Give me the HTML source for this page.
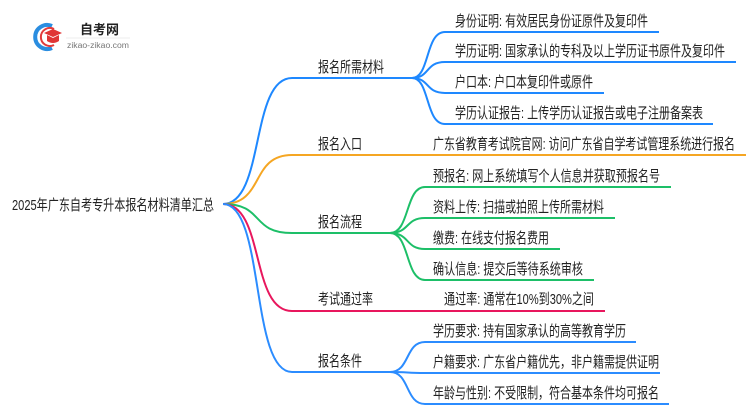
<!DOCTYPE html>
<html><head><meta charset="utf-8"><style>
html,body{margin:0;padding:0;background:#fff;}
svg text{font-family:"Liberation Sans","Noto Sans CJK SC",sans-serif;fill:#222;}
</style></head><body>
<svg width="750" height="410" viewBox="0 0 750 410" xmlns="http://www.w3.org/2000/svg">
<!-- logo -->
<path d="M52,26 A12,12 0 1 0 52,48" fill="none" stroke="#2a8de0" stroke-width="4"/>
<path d="M54,29 A9,9 0 1 0 54,45" fill="none" stroke="#e23b3b" stroke-width="2"/>
<polygon points="44,33 53,29 62,33 53,37" fill="#e03535"/>
<path d="M47,35 L47,41 Q53,45 59,41 L59,35 L53,38 Z" fill="#e03535"/>
<text x="80" y="34" font-size="13" font-weight="bold" fill="#333">自考网</text>
<line x1="66" y1="38" x2="130" y2="38" stroke="#ddd" stroke-width="0.6"/>
<text x="67" y="48" font-size="8" style="fill:#777" textLength="62" lengthAdjust="spacingAndGlyphs">zikao-zikao.com</text>

<g fill="none" stroke-width="2">
<path d="M223,204 C265,204 250,78 292,78 L412,78" stroke="#1e88ff"/>
<path d="M223,204 C265,204 250,155 292,155 L746,155" stroke="#f5a623"/>
<path d="M223,204 C265,204 250,233 292,233 L390,233" stroke="#1dbf68"/>
<path d="M223,204 C265,204 250,311 292,311 L605,311" stroke="#e8175d"/>
<path d="M223,204 C265,204 250,372 292,372 L390,372" stroke="#2b8cff"/>
<g stroke="#1e88ff">
<path d="M412,78 C430,78 425,32 445,32 L659,32"/>
<path d="M412,78 C430,78 425,62 445,62 L736,62"/>
<path d="M412,78 C430,78 425,93 445,93 L604,93"/>
<path d="M412,78 C430,78 425,124 445,124 L713,124"/>
</g>
<g stroke="#1dbf68">
<path d="M390,233 C410,233 405,187 425,187 L671,187"/>
<path d="M390,233 C410,233 405,218 425,218 L615,218"/>
<path d="M390,233 C410,233 405,249 425,249 L560,249"/>
<path d="M390,233 C410,233 405,280 425,280 L594,280"/>
</g>
<g stroke="#2b8cff">
<path d="M390,372 C410,372 405,342 425,342 L636,342"/>
<path d="M390,372 C410,372 405,373 425,373 L660,373"/>
<path d="M390,372 C410,372 405,404 425,404 L669,404"/>
</g>
</g>

<g font-size="15" lengthAdjust="spacingAndGlyphs">
<text x="12" y="210" textLength="202" lengthAdjust="spacingAndGlyphs">2025年广东自考专升本报名材料清单汇总</text>
<text x="318" y="72" textLength="66" lengthAdjust="spacingAndGlyphs">报名所需材料</text>
<text x="318" y="149" textLength="44" lengthAdjust="spacingAndGlyphs">报名入口</text>
<text x="318" y="227" textLength="44" lengthAdjust="spacingAndGlyphs">报名流程</text>
<text x="318" y="304" textLength="55" lengthAdjust="spacingAndGlyphs">考试通过率</text>
<text x="318" y="366" textLength="44" lengthAdjust="spacingAndGlyphs">报名条件</text>

<text x="455" y="26" textLength="193" lengthAdjust="spacingAndGlyphs">身份证明: 有效居民身份证原件及复印件</text>
<text x="455" y="56" textLength="270" lengthAdjust="spacingAndGlyphs">学历证明: 国家承认的专科及以上学历证书原件及复印件</text>
<text x="455" y="87" textLength="138" lengthAdjust="spacingAndGlyphs">户口本: 户口本复印件或原件</text>
<text x="455" y="118" textLength="248" lengthAdjust="spacingAndGlyphs">学历认证报告: 上传学历认证报告或电子注册备案表</text>
<text x="433" y="149" textLength="302" lengthAdjust="spacingAndGlyphs">广东省教育考试院官网: 访问广东省自学考试管理系统进行报名</text>
<text x="433" y="181" textLength="227" lengthAdjust="spacingAndGlyphs">预报名: 网上系统填写个人信息并获取预报名号</text>
<text x="433" y="212" textLength="171" lengthAdjust="spacingAndGlyphs">资料上传: 扫描或拍照上传所需材料</text>
<text x="433" y="243" textLength="116" lengthAdjust="spacingAndGlyphs">缴费: 在线支付报名费用</text>
<text x="433" y="274" textLength="150" lengthAdjust="spacingAndGlyphs">确认信息: 提交后等待系统审核</text>
<text x="444" y="304" textLength="150" lengthAdjust="spacingAndGlyphs">通过率: 通常在10%到30%之间</text>
<text x="433" y="336" textLength="193" lengthAdjust="spacingAndGlyphs">学历要求: 持有国家承认的高等教育学历</text>
<text x="433" y="367" textLength="226" lengthAdjust="spacingAndGlyphs">户籍要求: 广东省户籍优先，非户籍需提供证明</text>
<text x="433" y="398" textLength="226" lengthAdjust="spacingAndGlyphs">年龄与性别: 不受限制，符合基本条件均可报名</text>
</g>
</svg>
</body></html>
